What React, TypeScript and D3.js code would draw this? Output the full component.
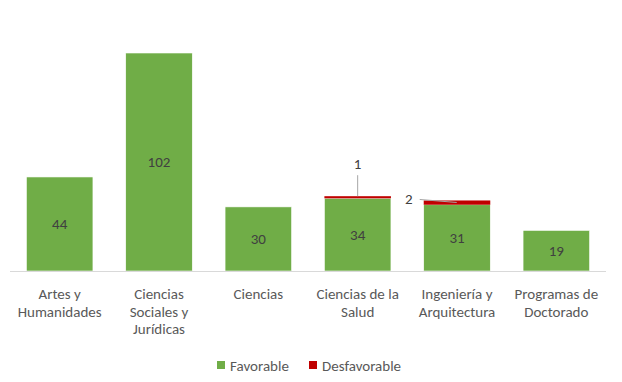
import React from "react";
import * as d3 from "d3";

const categories = [
  ["Artes y", "Humanidades"],
  ["Ciencias", "Sociales y", "Jurídicas"],
  ["Ciencias"],
  ["Ciencias de la", "Salud"],
  ["Ingeniería y", "Arquitectura"],
  ["Programas de", "Doctorado"],
];
const favorable = [44, 102, 30, 34, 31, 19];
const desfavorable = [0, 0, 0, 1, 2, 0];
const seriesNames = ["Favorable", "Desfavorable"];
const colors = ["#70AD47", "#C00000"];

export default function App() {
  const W = 622, H = 382;
  const left = 10, right = 606, base = 271;
  const x = d3.scaleBand<number>().domain(d3.range(categories.length)).range([left, right]).paddingInner(0.33).paddingOuter(0.165);
  const y = d3.scaleLinear().domain([0, 102]).range([base, 53]);
  const font = "Carlito, Calibri, Lato, 'Open Sans', sans-serif";
  const bw = x.bandwidth();
  const fs = 15;
  return (
    <svg width={W} height={H} style={{ position: "absolute", left: 0, top: 0, fontFamily: font }}>
      <rect width={W} height={H} fill="#fff" />
      {favorable.map((v, i) => {
        const x0 = x(i)!;
        const d = desfavorable[i];
        return (
          <g key={i}>
            <rect x={x0} y={y(v)} width={bw} height={base - y(v)} fill={colors[0]} stroke="#fff" strokeWidth={0.6} />
            {d > 0 && (
              <rect x={x0} y={y(v + d)} width={bw} height={y(v) - y(v + d)} fill={colors[1]} />
            )}
            <text x={x0 + bw / 2} y={(y(v) + base) / 2} textAnchor="middle" dominantBaseline="central" fontSize={fs} fill="#404040">{v}</text>
          </g>
        );
      })}
      {desfavorable.map((d, i) => {
        if (d === 0) return null;
        const x0 = x(i)!;
        const top = y(favorable[i] + d);
        const cx = x0 + bw / 2;
        if (i === 3) {
          return (
            <g key={"l" + i}>
              <line x1={cx} y1={top} x2={cx} y2={top - 21} stroke="#A6A6A6" strokeWidth={1} />
              <text x={cx} y={top - 32} textAnchor="middle" dominantBaseline="central" fontSize={fs} fill="#404040">{d}</text>
            </g>
          );
        }
        return (
          <g key={"l" + i}>
            <line x1={x0 - 4} y1={top - 1} x2={x0 + 33} y2={top + 2} stroke="#A6A6A6" strokeWidth={1} />
            <text x={x0 - 15} y={top - 1} textAnchor="middle" dominantBaseline="central" fontSize={fs} fill="#404040">{d}</text>
          </g>
        );
      })}
      <line x1={left} x2={right} y1={base + 0.5} y2={base + 0.5} stroke="#D9D9D9" strokeWidth={1} />
      {categories.map((lines, i) => (
        <text key={"c" + i} x={x(i)! + bw / 2} textAnchor="middle" fontSize={fs} fill="#595959">
          {lines.map((t, j) => (
            <tspan key={j} x={x(i)! + bw / 2} y={299 + j * 17.5}>{t}</tspan>
          ))}
        </text>
      ))}
      {seriesNames.map((s, i) => {
        const lx = [217, 309][i];
        return (
          <g key={"lg" + i}>
            <rect x={lx} y={361} width={8} height={8} fill={colors[i]} />
            <text x={lx + 13} y={365.5} dominantBaseline="central" fontSize={fs} fill="#595959">{s}</text>
          </g>
        );
      })}
    </svg>
  );
}
